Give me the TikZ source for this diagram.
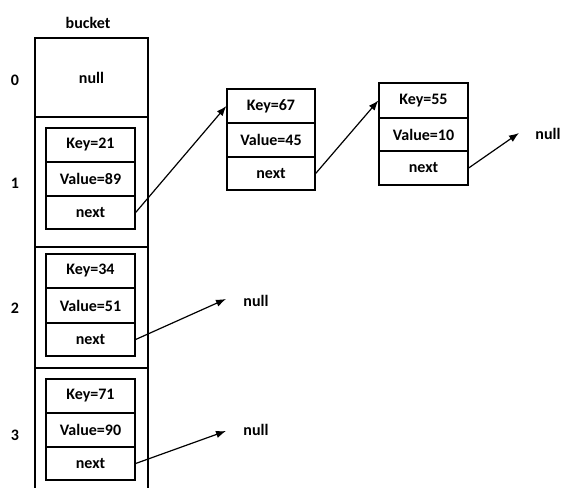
\documentclass[tikz,border=0pt]{standalone}
\usepackage{fontspec}
\setmainfont{Carlito}
\usetikzlibrary{arrows.meta}
\begin{document}
\begin{tikzpicture}[x=1pt,y=-1pt,
  every node/.style={font=\bfseries\fontsize{16}{18}\selectfont, inner sep=0pt},
  field/.style={draw, line width=1.3pt, minimum width=89pt, minimum height=34pt},
  bucketcell/.style={draw, line width=1.3pt, minimum width=113pt},
  link/.style={line width=1.2pt, -{Latex[length=10pt,width=7.5pt]}},
  lbl/.style={}]
\useasboundingbox (0,0) rectangle (563,488);

% bucket array
\node[lbl] (title) at (88,23) {bucket};
\node[bucketcell, minimum height=79pt] (b0) at (91.5,77.5) {null};
\node[bucketcell, minimum height=130pt] (b1) at (91.5,182) {};
\node[bucketcell, minimum height=121pt] (b2) at (91.5,307.5) {};
\coordinate (b3tl) at (35,368);
\coordinate (b3tr) at (148,368);
\coordinate (b3bl) at (35,488);
\coordinate (b3br) at (148,488);
\draw[line width=1.3pt] (b3tl) -- (b3bl) (b3tr) -- (b3br) (b3tl) -- (b3tr);

% indices
\node[lbl] (i0) at (15,80) {0};
\node[lbl] (i1) at (15,183) {1};
\node[lbl] (i2) at (15,308) {2};
\node[lbl] (i3) at (15,435) {3};

% entry in bucket 1
\node[field] (k1) at (90.5,145) {Key=21};
\node[field] (v1) at (90.5,179) {Value=89};
\node[field, minimum height=33pt] (n1) at (90.5,212.5) {next};

% entry in bucket 2
\node[field] (k2) at (90.5,271) {Key=34};
\node[field, minimum height=35pt] (v2) at (90.5,305.5) {Value=51};
\node[field, minimum height=33pt] (n2) at (90.5,339.5) {next};

% entry in bucket 3
\node[field] (k3) at (90.5,396) {Key=71};
\node[field] (v3) at (90.5,430) {Value=90};
\node[field, minimum height=33pt] (n3) at (90.5,463.5) {next};

% chained entries of bucket 1
\node[field, minimum width=88pt] (k67) at (271,106) {Key=67};
\node[field, minimum width=88pt] (v67) at (271,140) {Value=45};
\node[field, minimum width=88pt, minimum height=33pt] (n67) at (271,173.5) {next};

\node[field, minimum height=35pt] (k55) at (423.5,100.5) {Key=55};
\node[field, minimum height=33pt] (v55) at (423.5,134.5) {Value=10};
\node[field] (n55) at (423.5,168) {next};

% null terminators
\node[lbl] (null1) at (548,134) {null};
\node[lbl] (null2) at (256,301) {null};
\node[lbl] (null3) at (256,430) {null};
\coordinate (e1) at (519,133);
\coordinate (e2) at (226,299);
\coordinate (e3) at (226,431);

% links
\draw[link] (n1.east) -- (k67.west);
\draw[link] (n67.east) -- (k55.west);
\draw[link] (n55.east) -- (e1);
\draw[link] (n2.east) -- (e2);
\draw[link] (n3.east) -- (e3);
\end{tikzpicture}
\end{document}
